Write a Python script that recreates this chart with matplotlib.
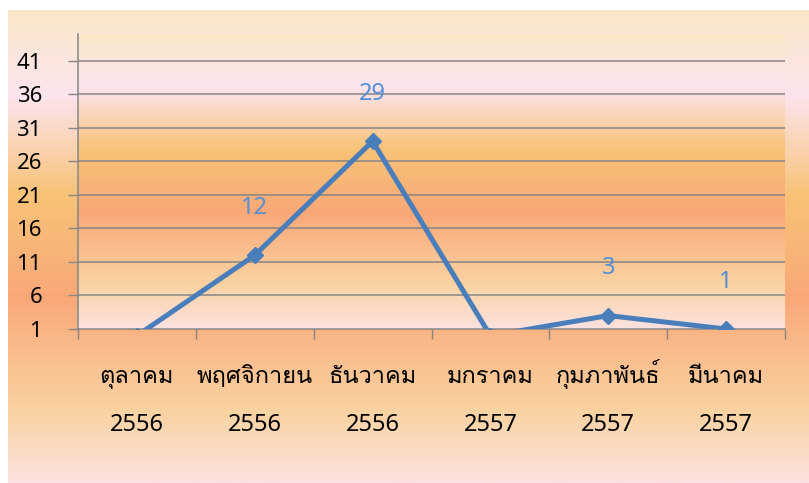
import numpy as np
import matplotlib
matplotlib.use("Agg")
import matplotlib.pyplot as plt
from matplotlib import font_manager, ft2font
from matplotlib.colors import LinearSegmentedColormap
from matplotlib.ticker import FixedLocator

# data
months = ["ตุลาคม", "พฤศจิกายน", "ธันวาคม", "มกราคม", "กุมภาพันธ์", "มีนาคม"]
years = ["2556", "2556", "2556", "2557", "2557", "2557"]
counts = [0, 12, 29, 0, 3, 1]
y_ticks = [1, 6, 11, 16, 21, 26, 31, 36, 41]


def find_thai_font():
    # look for any installed font that has Thai glyphs
    for f in font_manager.fontManager.ttflist:
        try:
            if 0x0E01 in ft2font.FT2Font(f.fname).get_charmap():
                return f.name
        except Exception:
            pass
    return None


thai = find_thai_font()
# digits in Noto Sans, Thai glyphs fall through to the Thai font
families = ["Noto Sans"] + ([thai] if thai else []) + ["DejaVu Sans"]
plt.rcParams["font.family"] = families

# sunset-like gradient used by both chart area and plot area
grad = LinearSegmentedColormap.from_list("sunset", [
    (0.00, "#FAE8C8"),
    (0.18, "#FCE4EE"),
    (0.39, "#F8C377"),
    (0.61, "#F9A878"),
    (0.85, "#FAD3A2"),
    (1.00, "#FCE2E0"),
])
g = np.linspace(0, 1, 256).reshape(-1, 1)

W, H = 809, 483
fig = plt.figure(figsize=(W / 100, H / 100), dpi=100)
fig.patch.set_facecolor("white")

# chart area background
bg = fig.add_axes([8 / W, 0, 801 / W, 473 / H])
bg.imshow(g, cmap=grad, aspect="auto", extent=[0, 1, 0, 1], origin="upper")
bg.set_axis_off()

ax = fig.add_axes([78 / W, 1 - 329 / H, 707 / W, 295 / H])
ax.imshow(g, cmap=grad, aspect="auto", extent=[0, 1, 0, 1], origin="upper",
          transform=ax.transAxes, zorder=0)

x = np.arange(len(counts))
ax.plot(x, counts, color="#4A7EBB", lw=3.6, marker="D", ms=8,
        mec="#4A7EBB", zorder=3, solid_joinstyle="miter")

ymin, ymax = 1, 45
for xi, v in zip(x, counts):
    if v >= ymin:
        ax.annotate(str(v), (xi, v), xytext=(0, 34), textcoords="offset points",
                    ha="center", va="center", color="#558ED5", fontsize=17)

ax.set_xlim(-0.5, len(counts) - 0.5)
ax.set_ylim(ymin, ymax)

grid_c = "#868686"
ax.set_yticks(y_ticks)
ax.tick_params(axis="y", length=7, width=1, color=grid_c, pad=19, labelsize=16)
for t in y_ticks[1:]:
    ax.axhline(t, color=grid_c, lw=1.1, zorder=1)

# category labels: month row and year row
ax.set_xticks(x)
ax.set_xticklabels([])
ax.xaxis.set_minor_locator(FixedLocator(np.arange(-0.5, len(counts), 1.0)))
ax.tick_params(axis="x", which="major", length=0)
ax.tick_params(axis="x", which="minor", length=7, width=1, color=grid_c)
tr = ax.get_xaxis_transform()
for xi, m, yr in zip(x, months, years):
    ax.text(xi, -0.183, m, transform=tr, ha="center", va="baseline", fontsize=17)
    ax.text(xi, -0.346, yr, transform=tr, ha="center", va="baseline", fontsize=17)

for s in ["top", "right"]:
    ax.spines[s].set_visible(False)
for s in ["left", "bottom"]:
    ax.spines[s].set_color(grid_c)
    ax.spines[s].set_linewidth(1.1)

fig.savefig("out.png", dpi=100)
